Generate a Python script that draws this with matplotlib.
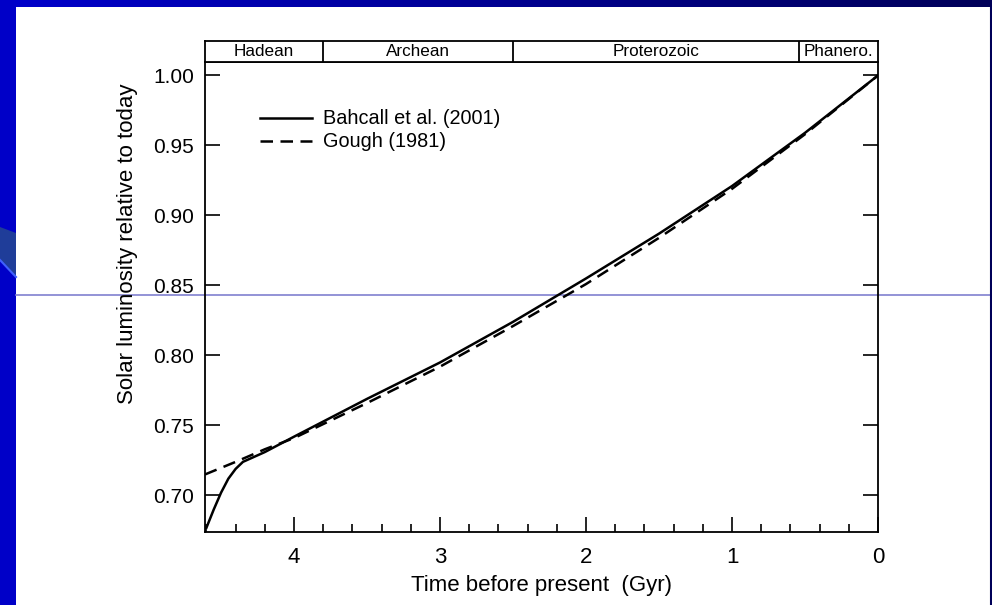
import numpy as np
import matplotlib
matplotlib.use("Agg")
import matplotlib.pyplot as plt
from matplotlib.patches import Rectangle, Polygon
from matplotlib.ticker import MultipleLocator

plt.rcParams['font.family'] = ['Liberation Sans', 'DejaVu Sans']

# values (time before present in Gyr, luminosity / today)
bahcall_t = [4.60, 4.55, 4.50, 4.45, 4.40, 4.35, 4.20, 4.00, 3.50, 3.00, 2.50, 2.00, 1.50, 1.00, 0.50, 0.00]
bahcall_l = [0.677, 0.690, 0.702, 0.712, 0.719, 0.724, 0.731, 0.742, 0.769, 0.795, 0.824, 0.855, 0.887, 0.921, 0.959, 1.000]
gough_t = [4.61, 4.40, 4.20, 4.00, 3.50, 3.00, 2.50, 2.00, 1.50, 1.00, 0.50, 0.00]
gough_l = [0.715, 0.724, 0.733, 0.741, 0.766, 0.792, 0.821, 0.851, 0.884, 0.919, 0.958, 1.000]

eras = ['Hadean', 'Archean', 'Proterozoic', 'Phanero.']
era_edges = [4.61, 3.8, 2.5, 0.54, 0.0]

W, H = 992, 605
fig = plt.figure(figsize=(W / 100, H / 100), dpi=100)
fig.patch.set_facecolor('white')

# slide background decorations
bg = fig.add_axes([0, 0, 1, 1], zorder=-10)
bg.axis('off')
grad = np.linspace(0, 1, 256).reshape(1, -1)
cmap = matplotlib.colors.LinearSegmentedColormap.from_list('band', ['#0000cc', '#000058'])
bg.imshow(grad, extent=[0, W, 7, 0], aspect='auto', cmap=cmap)
bg.add_patch(Rectangle((0, 0), 16, H, color='#0000c8', lw=0))
bg.add_patch(Polygon([(0, 227), (16, 233), (16, 277), (0, 260)], color='#1f3d99', lw=0))
bg.plot([0, 16], [260, 277], color='#4060ff', lw=1.5)
bg.plot([16, W], [294.5, 294.5], color='#8080d0', lw=1.2)
bg.plot([W - 1, W - 1], [7, H], color='#000058', lw=1.5)
bg.set_xlim(0, W)
bg.set_ylim(H, 0)

# main axes
ax = fig.add_axes([205 / W, 1 - 532 / H, (878 - 205) / W, (532 - 62) / H])
ax.set_facecolor('none')
ax.plot(bahcall_t, bahcall_l, color='black', lw=1.8, label='Bahcall et al. (2001)')
ax.plot(gough_t, gough_l, color='black', lw=1.8, ls=(0, (5, 3)), label='Gough (1981)')
ax.set_xlim(4.61, 0)
ax.set_ylim(0.6739, 1.0096)
ax.xaxis.set_major_locator(MultipleLocator(1))
ax.xaxis.set_minor_locator(MultipleLocator(0.2))
ax.yaxis.set_major_locator(MultipleLocator(0.05))
ax.yaxis.set_major_formatter(matplotlib.ticker.FormatStrFormatter('%.2f'))
ax.tick_params(axis='both', which='major', direction='in', length=11, width=1.2, labelsize=15)
ax.tick_params(axis='x', which='minor', direction='in', length=6, width=1.2)
ax.tick_params(axis='y', which='both', right=True, pad=8)
ax.tick_params(axis='x', which='major', pad=11, labelsize=16)
for sp in ax.spines.values():
    sp.set_linewidth(1.3)
ax.set_xlabel('Time before present  (Gyr)', fontsize=16, labelpad=5)
ax.set_ylabel('Solar luminosity relative to today', fontsize=16)
ax.yaxis.set_label_coords(-0.1, 0.614)
ax.legend(loc='upper left', bbox_to_anchor=(0.055, 0.937), frameon=False, fontsize=14.3,
          handlelength=2.6, handletextpad=0.6, labelspacing=0.2)

# era bar on top
era_ax = fig.add_axes([205 / W, 1 - 62 / H, (878 - 205) / W, 21 / H])
era_ax.set_xlim(4.61, 0)
era_ax.set_ylim(0, 1)
era_ax.set_xticks([])
era_ax.set_yticks([])
for sp in era_ax.spines.values():
    sp.set_linewidth(1.3)
for i, name in enumerate(eras):
    lo, hi = era_edges[i], era_edges[i + 1]
    if i > 0:
        era_ax.axvline(lo, color='black', lw=1.3)
    era_ax.text((lo + hi) / 2, 0.48, name, ha='center', va='center', fontsize=12.3)

fig.savefig('out.png', dpi=100, facecolor=fig.get_facecolor())
